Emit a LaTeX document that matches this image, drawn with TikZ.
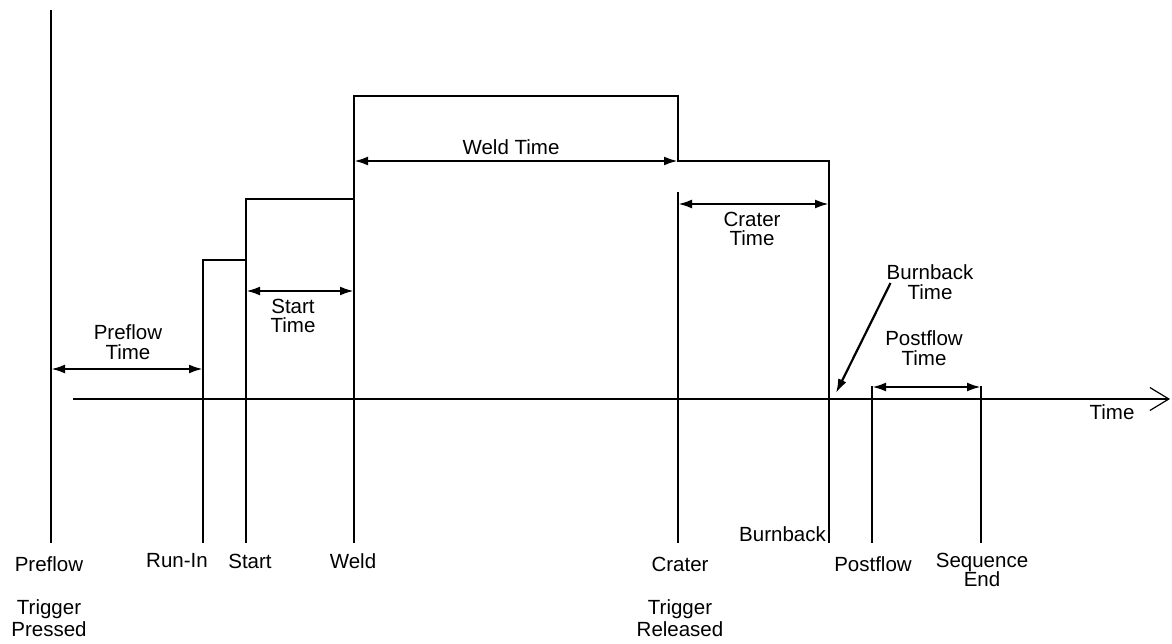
\documentclass[tikz,border=0pt]{standalone}
\usepackage{fontspec}
\setmainfont{Liberation Sans}
\usetikzlibrary{arrows.meta,positioning}

\begin{document}
\begin{tikzpicture}[x=1pt, y=-1pt,
    sig/.style={line width=1.2pt},
    dim/.style={line width=2.5pt, {Latex[length=14pt,width=9pt]}-{Latex[length=14pt,width=9pt]}},
    lbl/.style={inner sep=0pt, align=center, font=\fontsize{20.5}{19.5}\selectfont},
    trig/.style={lbl, font=\fontsize{20.5}{22}\selectfont}
  ]
    \useasboundingbox (0,0) rectangle (1172,644);

    % Time axis
    \draw[sig, -{Straight Barb[length=19pt,width=23pt,line width=1.2pt]}] (73,399) -- (1170,399);
    \node[lbl] (timelbl) at (1112,412) {Time};

    % Sequence steps
    \draw[sig] (51,10) -- (51,543);
    \draw[sig] (203,543) -- (203,260) -- (246,260);
    \draw[sig] (246,543) -- (246,199) -- (354,199);
    \draw[sig] (354,543) -- (354,96) -- (678,96) -- (678,161) -- (829,161) -- (829,543);
    \draw[sig] (678,192) -- (678,543);
    \draw[sig] (872,386) -- (872,543);
    \draw[sig] (981,386) -- (981,543);

    % Interval arrows
    \draw[dim] (51,369) -- (203,369);
    \draw[dim] (246,291) -- (354,291);
    \draw[dim] (354,161) -- (678,161);
    \draw[dim] (678,204) -- (829,204);
    \draw[dim] (872,387) -- (981,387);

    % Interval labels
    \node[lbl] (preflowtime)  at (128,342) {Preflow\\Time};
    \node[lbl] (starttime)    at (293,316) {Start\\Time};
    \node[lbl] (weldtime)     at (511,147) {Weld Time};
    \node[lbl] (cratertime)   at (752,229) {Crater\\Time};
    \node[lbl] (burnbacktime) at (930,282) {Burnback\\Time};
    \node[lbl] (postflowtime) at (924,348) {Postflow\\Time};

    \coordinate (bbtip) at (836,393);
    \draw[line width=2.2pt, -{Latex[length=14pt,width=9pt]}] (burnbacktime.west) ++(4,1) -- (bbtip);

    % Event labels
    \node[lbl] (preflow)      at (49,564)  {Preflow};
    \node[trig] (trigpressed) at (49,618)  {Trigger\\Pressed};
    \node[lbl] (runin)        at (177,561) {Run-In};
    \node[lbl] (start)        at (250,561) {Start};
    \node[lbl] (weld)         at (353,561) {Weld};
    \node[lbl] (crater)       at (680,564) {Crater};
    \node[trig] (trigreleased) at (680,618) {Trigger\\Released};
    \node[lbl, anchor=east] (burnback) at (826,534) {Burnback};
    \node[lbl] (postflow)     at (873,564) {Postflow};
    \node[lbl] (seqend)       at (982,570) {Sequence\\End};
\end{tikzpicture}
\end{document}
